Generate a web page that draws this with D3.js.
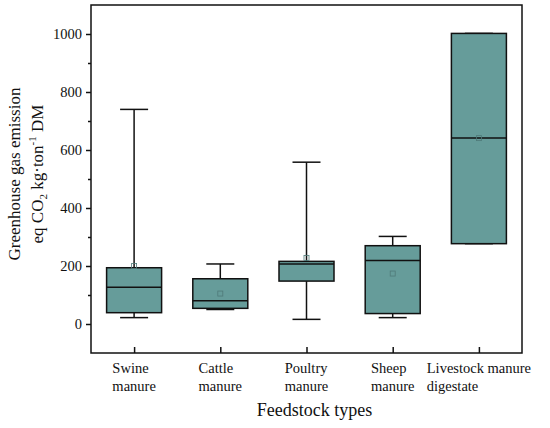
<!DOCTYPE html>
<html lang="en">
<head>
<meta charset="utf-8">
<title>Greenhouse gas emission by feedstock type</title>
<script src="https://cdn.jsdelivr.net/npm/d3@7"></script>
<style>
  body { margin: 0; background: #fff; }
  svg text { font-family: "Liberation Serif", "DejaVu Serif", serif; fill: #111; }
</style>
</head>
<body>
<svg id="chart" width="550" height="428"></svg>
<script>
// values
var categories = ["Swine manure", "Cattle manure", "Poultry manure", "Sheep manure", "Livestock manure digestate"];
var categoryLines = [["Swine", "manure"], ["Cattle", "manure"], ["Poultry", "manure"], ["Sheep", "manure"], ["Livestock manure", "digestate"]];
var whiskerLow  = [22, 50, 16, 22, 277];
var q1          = [39, 54, 148, 36, 277];
var median      = [127, 80, 207, 219, 641];
var q3          = [194, 156, 216, 270, 1002];
var whiskerHigh = [740, 207, 558, 302, 1002];
var means       = [200, 105, 228, 174, 641];
var yTicks = [0, 200, 400, 600, 800, 1000];
var yMinorTicks = [100, 300, 500, 700, 900];

var width = 550, height = 428;
var margin = {top: 5, right: 28, bottom: 75, left: 91};
var boxFill = "#669c9a";
var serif = '"Liberation Serif", "DejaVu Serif", serif';

var svg = d3.select("#chart");

var x = d3.scalePoint()
  .domain(categories)
  .range([margin.left, width - margin.right])
  .padding(0.5);

var y = d3.scaleLinear()
  .domain([-100, 1100])
  .range([height - margin.bottom, margin.top]);

var boxW = 55, capW = 28;

var rows = categories.map(function(c, i) {
  return {cat: c, lo: whiskerLow[i], q1: q1[i], med: median[i], q3: q3[i], hi: whiskerHigh[i], mean: means[i]};
});

// whiskers
var g = svg.append("g");
rows.forEach(function(d) {
  var cx = x(d.cat);
  g.append("line").attr("x1", cx).attr("x2", cx).attr("y1", y(d.q3)).attr("y2", y(d.hi))
    .attr("stroke", "#111").attr("stroke-width", 1.5);
  g.append("line").attr("x1", cx).attr("x2", cx).attr("y1", y(d.q1)).attr("y2", y(d.lo))
    .attr("stroke", "#111").attr("stroke-width", 1.5);
  g.append("line").attr("x1", cx - capW / 2).attr("x2", cx + capW / 2).attr("y1", y(d.hi)).attr("y2", y(d.hi))
    .attr("stroke", "#111").attr("stroke-width", 1.5);
  g.append("line").attr("x1", cx - capW / 2).attr("x2", cx + capW / 2).attr("y1", y(d.lo)).attr("y2", y(d.lo))
    .attr("stroke", "#111").attr("stroke-width", 1.5);
});

// boxes
g.selectAll("rect.box").data(rows).enter().append("rect")
  .attr("class", "box")
  .attr("x", function(d) { return x(d.cat) - boxW / 2; })
  .attr("y", function(d) { return y(d.q3); })
  .attr("width", boxW)
  .attr("height", function(d) { return y(d.q1) - y(d.q3); })
  .attr("fill", boxFill)
  .attr("stroke", "#111")
  .attr("stroke-width", 1.5);

g.selectAll("line.median").data(rows).enter().append("line")
  .attr("class", "median")
  .attr("x1", function(d) { return x(d.cat) - boxW / 2; })
  .attr("x2", function(d) { return x(d.cat) + boxW / 2; })
  .attr("y1", function(d) { return y(d.med); })
  .attr("y2", function(d) { return y(d.med); })
  .attr("stroke", "#111")
  .attr("stroke-width", 1.5);

// mean markers
g.selectAll("rect.mean").data(rows).enter().append("rect")
  .attr("class", "mean")
  .attr("x", function(d) { return x(d.cat) - 2.5; })
  .attr("y", function(d) { return y(d.mean) - 2.5; })
  .attr("width", 5).attr("height", 5)
  .attr("fill", "none")
  .attr("stroke", "#4f7a79")
  .attr("stroke-width", 0.8);

// frame
svg.append("rect")
  .attr("x", margin.left).attr("y", margin.top)
  .attr("width", width - margin.left - margin.right)
  .attr("height", height - margin.top - margin.bottom)
  .attr("fill", "none").attr("stroke", "#111").attr("stroke-width", 1.5);

// y axis
var yAxis = svg.append("g")
  .attr("transform", "translate(" + margin.left + ",0)")
  .call(d3.axisLeft(y).tickValues(yTicks).tickSize(5).tickPadding(4).tickFormat(d3.format("d")));
yAxis.attr("font-family", null).attr("font-size", null);
yAxis.select(".domain").remove();
yAxis.selectAll("line").attr("stroke", "#111").attr("stroke-width", 1.5);
yAxis.selectAll("text").style("font-size", "14.5px").style("font-family", serif).attr("fill", "#111");

var yMinor = svg.append("g")
  .attr("transform", "translate(" + margin.left + ",0)")
  .call(d3.axisLeft(y).tickValues(yMinorTicks).tickSize(3).tickFormat(""));
yMinor.select(".domain").remove();
yMinor.selectAll("line").attr("stroke", "#111").attr("stroke-width", 1.5);

// x axis, ticks point inward
var xAxis = svg.append("g")
  .attr("transform", "translate(0," + (height - margin.bottom) + ")")
  .call(d3.axisBottom(x).tickSize(-6).tickFormat(""));
xAxis.select(".domain").remove();
xAxis.selectAll("line").attr("stroke", "#111").attr("stroke-width", 1.5);

// category labels: two left-aligned lines, block centered on the tick
categories.forEach(function(c, i) {
  var t = svg.append("text")
    .attr("text-anchor", "start")
    .style("font-size", "14.5px");
  categoryLines[i].forEach(function(line, k) {
    t.append("tspan").attr("x", 0).attr("dy", k === 0 ? 0 : 18).text(line);
  });
  var w = t.node().getBBox().width;
  var x0 = Math.min(x(c) - w / 2, width - 5 - w);
  t.attr("transform", "translate(" + x0 + "," + (height - margin.bottom + 20) + ")");
});

// axis titles
svg.append("text")
  .attr("x", (margin.left + width - margin.right) / 2 + 8)
  .attr("y", 416)
  .attr("text-anchor", "middle")
  .style("font-size", "18px")
  .text("Feedstock types");

var cy = 174;
svg.append("text")
  .attr("transform", "translate(20," + cy + ") rotate(-90)")
  .attr("text-anchor", "middle")
  .style("font-size", "17px")
  .text("Greenhouse gas emission");

var t2 = svg.append("text")
  .attr("transform", "translate(43," + cy + ") rotate(-90)")
  .attr("text-anchor", "middle")
  .style("font-size", "17px");
t2.append("tspan").text("eq CO");
t2.append("tspan").attr("dy", 4).style("font-size", "11px").text("2");
t2.append("tspan").attr("dy", -4).text(" kg\u00b7ton");
t2.append("tspan").attr("dy", -7).style("font-size", "11px").text("-1");
t2.append("tspan").attr("dy", 7).text(" DM");
</script>
</body>
</html>
